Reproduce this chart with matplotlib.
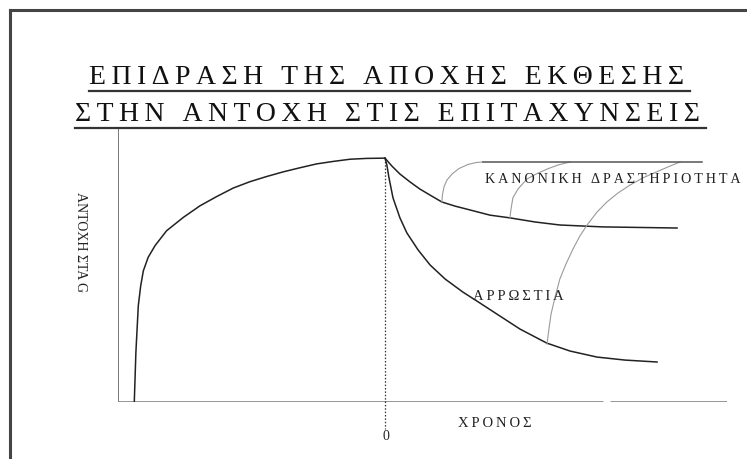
import numpy as np
import matplotlib
matplotlib.use('Agg')
import matplotlib.pyplot as plt
from matplotlib.lines import Line2D

# adaptation curve before the break (time < 0)
rise_t = [-9.39, -9.33, -9.24, -9.15, -9.05, -8.87, -8.61, -8.18, -7.55, -6.93, -6.30,
          -5.68, -5.06, -4.43, -3.81, -3.18, -2.56, -1.94, -1.31, -0.69, 0.0]
rise_g = [0, 18.1, 35.1, 42.4, 47.9, 52.8, 57.1, 62.5, 67.4, 71.6, 75.0,
          78.1, 80.4, 82.3, 84.0, 85.5, 86.9, 87.8, 88.6, 88.9, 89.0]

# decay after the break: normal activity and illness
normal_t = [0.0, 0.26, 0.56, 0.94, 1.31, 1.69, 2.13, 2.62, 3.18, 3.93, 4.68, 5.62,
            6.55, 8.16, 10.94]
normal_g = [89.0, 86.1, 83.2, 80.3, 77.7, 75.5, 73.0, 71.5, 70.1, 68.2, 67.2, 65.7,
            64.6, 63.9, 63.5]
ill_t = [0.0, 0.07, 0.15, 0.30, 0.56, 0.82, 1.24, 1.69, 2.25, 2.92, 3.56, 4.19,
         5.06, 6.06, 6.93, 7.94, 8.99, 10.19]
ill_g = [89.0, 86.5, 81.8, 74.5, 67.2, 61.7, 55.5, 50.0, 44.9, 40.1, 36.1, 32.1,
         26.6, 21.5, 18.6, 16.4, 15.3, 14.6]

# re-exposure curves back to the normal level
re1_t = [2.13, 2.15, 2.21, 2.32, 2.51, 2.77, 3.11, 3.41, 3.67]
re1_g = [73.0, 75.5, 78.5, 81.0, 83.2, 85.2, 86.7, 87.4, 87.6]
re2_t = [4.68, 4.72, 4.79, 4.98, 5.32, 5.66, 6.07, 6.48, 6.93]
re2_g = [67.2, 70.4, 74.5, 77.7, 81.4, 83.2, 85.0, 86.5, 87.6]
re3_t = [6.07, 6.14, 6.22, 6.37, 6.55, 6.78, 7.04, 7.30, 7.60, 7.94, 8.31, 8.73,
         9.18, 9.66, 10.15, 10.60, 11.05]
re3_g = [21.2, 26.6, 32.1, 38.3, 44.9, 50.4, 55.8, 60.6, 65.0, 69.3, 73.0, 76.3,
         79.2, 81.8, 83.9, 85.8, 87.6]
level_t = [3.67, 11.87]
level_g = [87.6, 87.6]

title_lines = ['ΕΠΙΔΡΑΣΗ ΤΗΣ ΑΠΟΧΗΣ ΕΚΘΕΣΗΣ', 'ΣΤΗΝ ΑΝΤΟΧΗ ΣΤΙΣ ΕΠΙΤΑΧΥΝΣΕΙΣ']
time_axis_parts = [(-10.0, 8.16), (8.43, 12.81)]

serif = ['Liberation Serif', 'DejaVu Serif']


def spaced(s, sep='\u2009'):
    return sep.join(s)


fig = plt.figure(figsize=(7.47, 4.60), dpi=100)
ax = fig.add_axes([118 / 747, 1 - 403 / 460, 609 / 747, 274 / 460])
ax.set_xlim(-10.0, 12.81)
ax.set_ylim(0, 100)
ax.axis('off')

# axes
ax.plot([-10, -10], [0, 100], color='#555555', lw=1.1, solid_capstyle='butt')
for a, b in time_axis_parts:
    ax.plot([a, b], [0, 0], color='#8c8c8c', lw=2.0, solid_capstyle='butt')

ax.plot([0, 0], [89, -10], color='#333333', lw=0.9, ls=(0, (1.2, 1.5)), clip_on=False)

ax.plot(rise_t, rise_g, color='#222222', lw=1.1)
ax.plot(normal_t, normal_g, color='#222222', lw=1.1)
ax.plot(ill_t, ill_g, color='#222222', lw=1.1)
for t, g in [(re1_t, re1_g), (re2_t, re2_g), (re3_t, re3_g)]:
    ax.plot(t, g, color='#9a9a9a', lw=0.8)
ax.plot(level_t, level_g, color='#555555', lw=1.1, clip_on=False)

ax.text(3.75, 81.4, spaced('ΚΑΝΟΝΙΚΗ ΔΡΑΣΤΗΡΙΟΤΗΤΑ'), family=serif, fontsize=10.2,
        va='center', ha='left', color='#222222', clip_on=False)
ax.text(3.3, 38.7, spaced('ΑΡΡΩΣΤΙΑ'), family=serif, fontsize=10.5,
        va='center', ha='left', color='#222222')
ax.text(4.12, -7.3, spaced('ΧΡΟΝΟΣ'), family=serif, fontsize=10.5,
        va='center', ha='center', color='#222222', clip_on=False)
ax.text(0.05, -12.4, '0', family=serif, fontsize=10, va='center', ha='center',
        color='#222222', clip_on=False)
ax.text(-11.42, 58.8, 'ΑΝΤΟΧΗ ΣΤΑ G', family=serif, fontsize=10, rotation=270,
        va='center', ha='center', color='#222222', clip_on=False)

# title with underlines
t1 = fig.text(0.518, 1 - 78 / 460, spaced(title_lines[0]), family=serif, fontsize=20,
              ha='center', va='center', color='#111111')
t2 = fig.text(0.519, 1 - 114.5 / 460, spaced(title_lines[1]), family=serif, fontsize=20,
              ha='center', va='center', color='#111111')
fig.canvas.draw()
r = fig.canvas.get_renderer()
for t, y in [(t1, 1 - 92 / 460), (t2, 1 - 129 / 460)]:
    bb = t.get_window_extent(r).transformed(fig.transFigure.inverted())
    fig.add_artist(Line2D([bb.x0, bb.x1 + 0.008], [y, y], color='#333333', lw=1.6))

# page frame
fig.add_artist(Line2D([10 / 747, 10 / 747], [-0.1, 1 - 11 / 460], color='#444444', lw=2.2))
fig.add_artist(Line2D([10 / 747, 1.1], [1 - 11 / 460, 1 - 11 / 460], color='#444444', lw=2.2))

fig.savefig('out.png', dpi=100, facecolor='white')
